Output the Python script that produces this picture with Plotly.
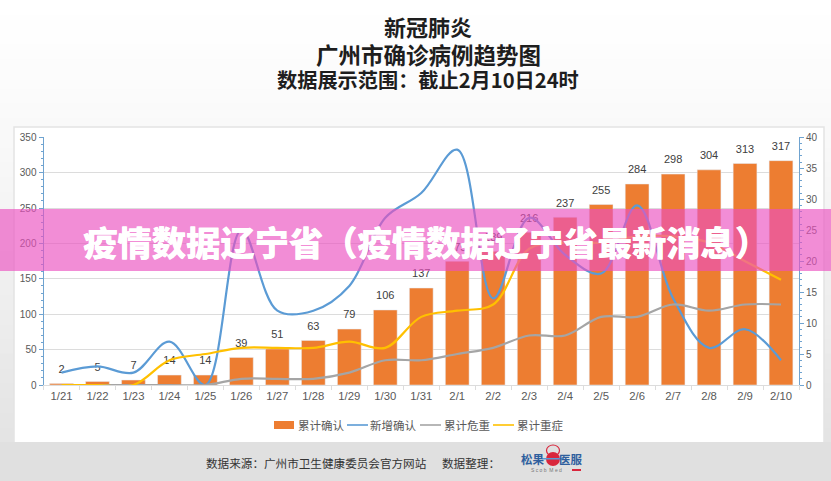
import plotly.graph_objects as go

days = ["1/21", "1/22", "1/23", "1/24", "1/25", "1/26", "1/27", "1/28", "1/29", "1/30", "1/31",
        "2/1", "2/2", "2/3", "2/4", "2/5", "2/6", "2/7", "2/8", "2/9", "2/10"]
total = [2, 5, 7, 14, 14, 39, 51, 63, 79, 106, 137, 175, 189, 216, 237, 255, 284, 298, 304, 313, 317]
new_cases = [2, 3, 2, 7, 0, 25, 12, 12, 16, 27, 31, 38, 14, 27, 21, 18, 29, 14, 6, 9, 4]
critical = [0, 0, 0, 0, 0, 1, 1, 1, 2, 4, 4, 5, 6, 8, 8, 11, 11, 13, 12, 13, 13]
severe = [0, 0, 0, 4, 5, 6, 6, 6, 7, 6, 11, 12, 13, 22, 23, 23, 24, 24, 23, 20, 17]

W, H = 831, 481
CJK = "Noto Sans CJK SC"
LATIN = "Liberation Sans"
AXIS_BLUE = "#6fa3d0"
GRID = "#dcdcdc"
ORANGE, BLUE, GRAY, YELLOW = "#ed7d31", "#5b9bd5", "#a5a5a5", "#ffc000"


def px(v):
    return v / W


def py(v):
    return 1 - v / H


def box(x0, y0, x1, y1, fill, layer="below", line=None):
    return dict(type="rect", xref="paper", yref="paper", x0=px(x0), x1=px(x1), y0=py(y1), y1=py(y0),
                fillcolor=fill, line=line or dict(width=0), layer=layer)


fig = go.Figure()
fig.add_bar(x=days, y=total, name="累计确认", marker_color=ORANGE, width=0.66, yaxis="y")
# value labels, the invisible marker only pushes the text up off the bar
fig.add_scatter(x=days, y=total, mode="markers+text", text=total, textposition="top center",
                marker=dict(size=11, opacity=0), cliponaxis=False, yaxis="y", showlegend=False,
                textfont=dict(family=LATIN, size=11, color="#404040"))
for name, vals, col in [("新增确认", new_cases, BLUE),
                        ("累计危重", critical, GRAY),
                        ("累计重症", severe, YELLOW)]:
    fig.add_scatter(x=days, y=vals, name=name, mode="lines", yaxis="y2",
                    line=dict(color=col, width=2.2, shape="spline", smoothing=1.0))

# background fades from white at the top to light grey at the footer
shapes = []
strips = 30
for i in range(strips):
    g = int(255 - (255 - 228) * (i / (strips - 1)) ** 1.3)
    shapes.append(box(0, 442 * i / strips, W, 442 * (i + 1) / strips + 1, f"rgb({g},{g},{g})"))
shapes += [
    box(14, 127, 824, 443, "white", line=dict(color="#e4e4e4", width=1.5)),
    box(0, 442, W, H, "#e0e0e0"),
    # legend swatches
    box(274, 421, 294, 429, ORANGE),
    box(347, 424.2, 368, 425.8, BLUE),
    box(420, 424.2, 441, 425.8, GRAY),
    box(493, 424.2, 514, 425.8, YELLOW),
    # logo
    dict(type="circle", xref="paper", yref="paper", x0=px(546), x1=px(560), y0=py(466), y1=py(452),
         fillcolor="#d9263c", line_width=0, layer="above"),
    dict(type="circle", xref="paper", yref="paper", x0=px(546.5), x1=px(559.5), y0=py(456), y1=py(445),
         fillcolor="rgba(0,0,0,0)", line=dict(color="#d9263c", width=1.2), layer="above"),
    box(542, 458, 564, 459.5, "#5b9bd5", layer="above"),
    box(572, 469, 581, 471, "#d9263c", layer="above"),
    # pink band
    box(0, 209, W, 271, "rgba(235,80,192,0.65)", layer="above"),
]

annotations = [
    dict(text="新冠肺炎", x=px(428), y=py(26.5), font=dict(size=22, color="#1e1e1e", family=CJK, weight="bold")),
    dict(text="广州市确诊病例趋势图", x=px(428), y=py(53.5), font=dict(size=22.5, color="#1e1e1e", family=CJK, weight="bold")),
    dict(text="数据展示范围：截止2月10日24时", x=px(428), y=py(79), font=dict(size=20.2, color="#1e1e1e", family=CJK, weight="bold")),
    dict(text="疫情数据辽宁省（疫情数据辽宁省最新消息）", x=px(426), y=py(241),
         font=dict(size=34.3, color="white", family=CJK, weight=900, shadow="0.4px 0 0 white")),
    dict(text="数据来源：广州市卫生健康委员会官方网站", x=px(316), y=py(463),
         font=dict(size=11.6, color="#333333", family=CJK)),
    dict(text="数据整理：", x=px(471), y=py(463), font=dict(size=11.6, color="#333333", family=CJK)),
    dict(text="松果", x=px(533), y=py(459), font=dict(size=11.5, color="#2f5f9e", family=CJK, weight="bold")),
    dict(text="医服", x=px(571), y=py(459), font=dict(size=11.5, color="#2f5f9e", family=CJK, weight="bold")),
    dict(text="S c o b  M e d", x=px(546), y=py(470), font=dict(size=5, color="#777777", family=LATIN)),
    dict(text="累计确认", x=px(321), y=py(425), font=dict(size=11.5, color="#595959", family=CJK)),
    dict(text="新增确认", x=px(393), y=py(425), font=dict(size=11.5, color="#595959", family=CJK)),
    dict(text="累计危重", x=px(467), y=py(425), font=dict(size=11.5, color="#595959", family=CJK)),
    dict(text="累计重症", x=px(540), y=py(425), font=dict(size=11.5, color="#595959", family=CJK)),
]
for a in annotations:
    a.update(xref="paper", yref="paper", showarrow=False, xanchor="center", yanchor="middle")

fig.update_layout(
    width=W, height=H, margin=dict(l=0, r=0, t=0, b=0, pad=0, autoexpand=False),
    autosize=False,
    paper_bgcolor="#f0f0f0", plot_bgcolor="white",
    showlegend=False,
    shapes=shapes, annotations=annotations,
    xaxis=dict(domain=[px(43.5), px(799)], type="category", range=[-0.5, 20.5], tickson="boundaries",
               ticks="outside", ticklen=4, tickcolor=GRID, linecolor=GRID, showgrid=False,
               tickfont=dict(family=LATIN, size=11.3, color="#595959")),
    yaxis=dict(domain=[py(385), py(137.3)], range=[0, 350], dtick=50, gridcolor=GRID, linecolor=AXIS_BLUE,
               showline=True, ticks="outside", ticklen=4, tickcolor=AXIS_BLUE, zeroline=False,
               minor=dict(dtick=10, ticks="outside", ticklen=2, tickcolor=AXIS_BLUE),
               tickfont=dict(family=LATIN, size=10, color="#595959")),
    yaxis2=dict(overlaying="y", side="right", range=[0, 40], dtick=5, showgrid=False, linecolor=AXIS_BLUE,
                showline=True, ticks="outside", ticklen=4, tickcolor=AXIS_BLUE, zeroline=False,
                minor=dict(dtick=1, ticks="outside", ticklen=2, tickcolor=AXIS_BLUE),
                tickfont=dict(family=LATIN, size=10, color="#595959")),
)

# the page's default body margin would shift the whole figure
fig.write_html("out.html", config={"displayModeBar": False},
               post_script="document.body.style.margin='0';")
